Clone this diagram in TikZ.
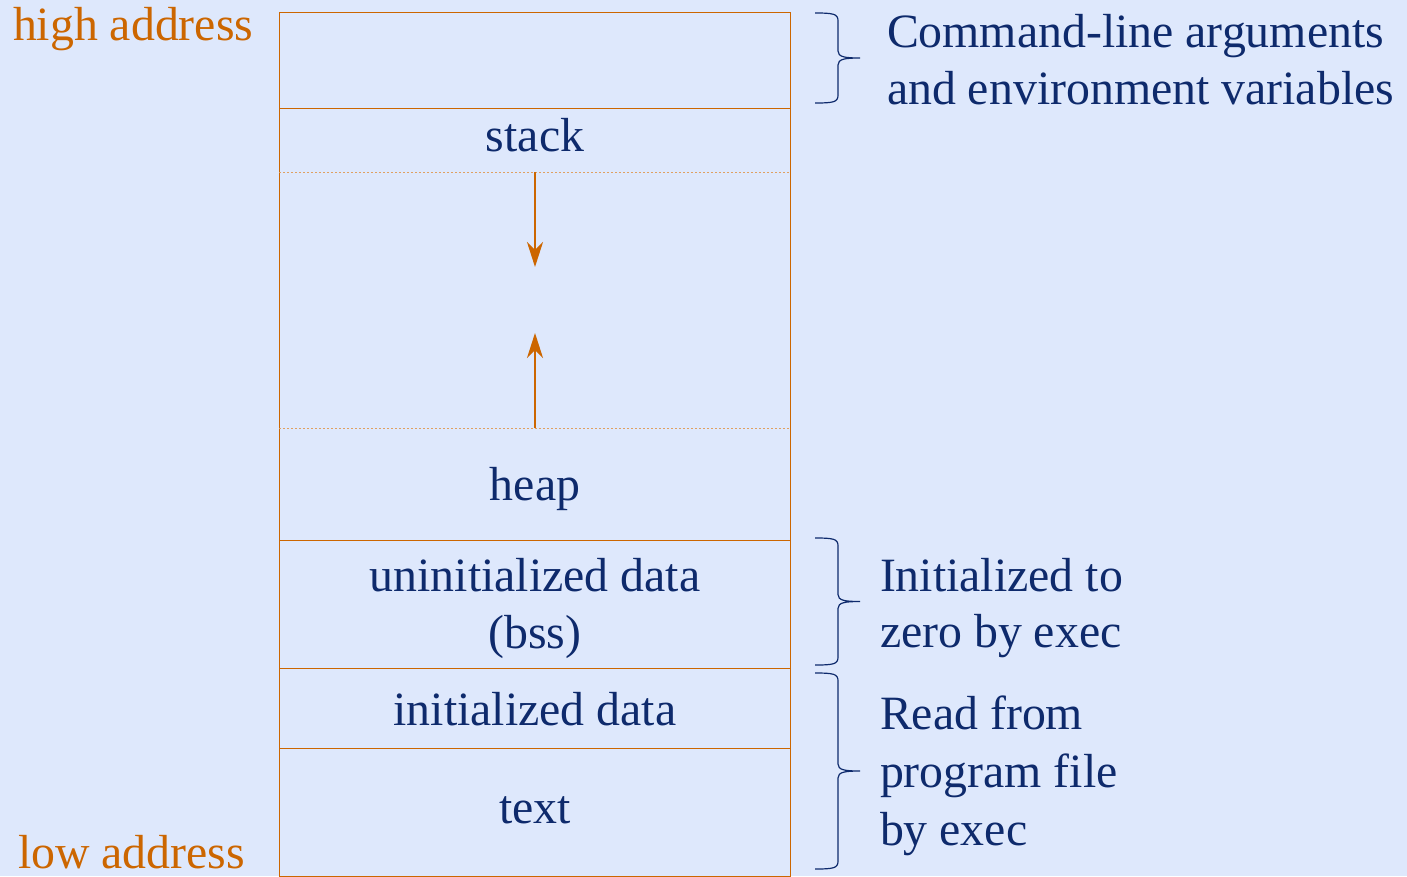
\documentclass[tikz,border=0pt]{standalone}
\usepackage{fontspec}
\setmainfont{Liberation Serif}
\usetikzlibrary{arrows.meta}
\definecolor{bgblue}{HTML}{DEE8FC}
\definecolor{navy}{HTML}{0E2A6C}
\definecolor{rust}{HTML}{CC6600}
\definecolor{rustlight}{HTML}{E0A060}
\tikzset{
  every node/.style={inner sep=0pt, outer sep=0pt, font=\fontsize{47.8}{57}\selectfont},
  seg/.style={draw=rust, line width=1pt, minimum width=511pt, anchor=north west},
  lbl/.style={text=navy, anchor=base},
  note/.style={text=navy, anchor=base west},
  addr/.style={text=rust, anchor=base west},
  sepline/.style={draw=rustlight, line width=1pt, dash pattern=on 2pt off 2pt},
  growarrow/.style={draw=rust, line width=2.5pt, -{Stealth[length=25pt, width=16pt, inset=8pt]}},
  bracecol/.style={draw=navy, line width=1.2pt}
}
% right-hand curly brace: #1 top y, #2 bottom y
\newcommand\sidebrace[2]{%
  \pgfmathsetmacro\ym{(#1+#2)/2}%
  \draw[bracecol] (815,#1) .. controls (834,#1) and (838,#1+1) .. (838,#1+8)
    -- (838,\ym-7) .. controls (838,\ym-1) and (845,\ym) .. (860,\ym)
    .. controls (845,\ym) and (838,\ym+1) .. (838,\ym+7)
    -- (838,#2-8) .. controls (838,#2-1) and (834,#2) .. (815,#2);}
\begin{document}
\begin{tikzpicture}[x=1pt, y=-1pt]
  \fill[bgblue] (0,0) rectangle (1407,876);
  \useasboundingbox (0,0) rectangle (1407,876);

  % memory segments
  \node[seg, minimum height=96pt]  (args) at (279,12)  {};
  \node[seg, minimum height=432pt] (mid)  at (279,108) {};
  \node[seg, minimum height=128pt] (bss)  at (279,540) {};
  \node[seg, minimum height=80pt]  (idat) at (279,668) {};
  \node[seg, minimum height=128pt] (txt)  at (279,748) {};

  % limits of stack and heap
  \draw[sepline] (mid.west |- 0,172) -- (mid.east |- 0,172);
  \draw[sepline] (mid.west |- 0,428) -- (mid.east |- 0,428);

  % growth directions
  \coordinate (stackedge) at (535,172);
  \coordinate (stackgrow) at (535,267);
  \coordinate (heapedge)  at (535,428);
  \coordinate (heapgrow)  at (535,333);
  \draw[growarrow] (stackedge) -- (stackgrow);
  \draw[growarrow] (heapedge) -- (heapgrow);

  % segment labels
  \node[lbl] (stack) at (535,151) {stack};
  \node[lbl] (heap)  at (535,500) {heap};
  \node[lbl] (bssA)  at (535,591) {uninitialized data};
  \node[lbl] (bssB)  at (535,648) {(bss)};
  \node[lbl] (idatl) at (535,725) {initialized data};
  \node[lbl] (txtl)  at (535,823) {text};

  % address ends
  \node[addr] (high) at (13,40)  {high address};
  \node[addr] (low)  at (18,868) {low address};

  % braces and notes
  \sidebrace{13}{103}
  \sidebrace{538}{665}
  \sidebrace{673}{869}
  \node[note] (cmdA)  at (887,47)  {Command-line arguments};
  \node[note] (cmdB)  at (887,104) {and environment variables};
  \node[note] (zeroA) at (880,591) {Initialized to};
  \node[note] (zeroB) at (880,647) {zero by exec};
  \node[note] (readA) at (880,729) {Read from};
  \node[note] (readB) at (880,787) {program file};
  \node[note] (readC) at (880,845) {by exec};
\end{tikzpicture}
\end{document}
